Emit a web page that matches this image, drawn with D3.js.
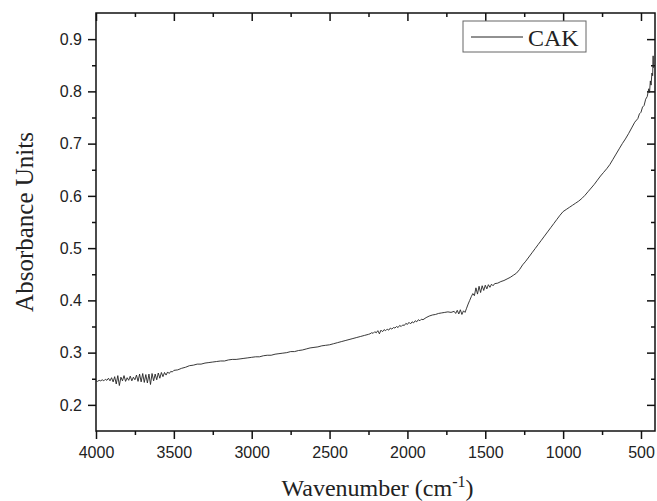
<!DOCTYPE html>
<html>
<head>
<meta charset="utf-8">
<title>CAK absorbance</title>
<script src="https://cdn.jsdelivr.net/npm/d3@7"></script>
<style>
  body { margin: 0; background: #fff; }
  .tick text { font-family: "Liberation Sans", Arial, sans-serif; font-size: 16px; fill: #222; }
  .axis-title { font-family: "Liberation Serif", "Times New Roman", serif; font-size: 24px; fill: #222; }
</style>
</head>
<body>
<svg id="chart" width="657" height="501"></svg>
<script>
// wavenumber (cm-1) and absorbance
const wavenumber = [
  4000,3990,3980,3970,3960,3950,3940,3930,3920,3910,3900,3890,3880,3870,3860,3850,3840,3830,3820,3810,
  3800,3790,3780,3770,3760,3750,3740,3730,3720,3710,3700,3690,3680,3670,3660,3650,3640,3630,3620,3610,
  3600,3590,3580,3570,3560,3550,3540,3530,3520,3510,3500,
  3475,3450,3425,3400,3375,3350,3325,3300,3275,3250,3225,3200,3175,3150,3125,3100,3075,3050,3025,3000,
  2975,2950,2925,2900,2875,2850,2825,2800,2775,2750,2725,2700,2675,2650,2625,2600,2575,2550,2525,2500,
  2475,2450,2425,2400,2375,2350,2325,2300,2275,2250,
  2240,2230,2220,2210,2200,2190,2180,2170,2160,2150,2140,2130,2120,2110,2100,2090,2080,2070,2060,2050,
  2040,2030,2020,2010,2000,1990,1980,1970,1960,1950,1940,1930,1920,1910,1900,
  1880,1860,1840,1820,1800,1780,1760,1740,1720,1700,
  1690,1680,1670,1660,1650,1640,1630,1620,1610,1600,1590,1580,1570,1560,1550,1540,1530,1520,1510,1500,
  1490,1480,1470,1460,1450,1440,1420,1400,1380,1360,1340,1320,1300,
  1280,1260,1240,1220,1200,1180,1160,1140,1120,1100,1080,1060,1040,1020,1000,
  980,960,940,920,900,880,860,840,820,800,780,760,740,720,700,680,660,640,620,600,
  580,560,540,520,510,500,490,480,470,460,450,445,440,435,430,425,422,420
];
const absorbance = [
  .246,.245,.247,.246,.248,.246,.249,.247,.251,.246,.252,.244,.254,.240,.256,.237,.253,.246,.256,.245,
  .252,.247,.255,.246,.253,.248,.257,.245,.259,.244,.260,.243,.258,.242,.259,.239,.260,.246,.259,.248,
  .261,.251,.262,.254,.262,.257,.263,.260,.264,.263,.266,
  .267,.270,.272,.275,.276,.278,.278,.280,.281,.282,.283,.284,.284,.286,.287,.287,.288,.289,.290,.291,
  .292,.292,.294,.295,.295,.297,.298,.299,.300,.302,.302,.304,.305,.307,.309,.310,.311,.313,.314,.315,
  .317,.319,.321,.323,.325,.327,.329,.331,.333,.335,
  .336,.338,.337,.340,.338,.342,.336,.343,.340,.344,.342,.345,.343,.347,.345,.348,.347,.350,.348,.352,
  .350,.353,.352,.356,.354,.358,.355,.359,.357,.361,.359,.363,.361,.364,.363,
  .367,.370,.372,.373,.375,.376,.377,.378,.377,.379,
  .375,.381,.374,.382,.373,.380,.377,.385,.393,.400,.407,.413,.409,.424,.412,.427,.415,.428,.419,.429,
  .422,.430,.425,.431,.428,.432,.433,.436,.438,.441,.444,.448,.452,
  .459,.468,.475,.483,.491,.499,.507,.515,.523,.531,.539,.547,.555,.563,.570,
  .574,.578,.582,.586,.590,.595,.601,.608,.615,.622,.630,.638,.645,.652,.660,.670,.680,.690,.700,.709,
  .719,.730,.741,.748,.757,.760,.770,.773,.785,.790,.805,.798,.820,.812,.835,.830,.868,.845
];
const seriesName = "CAK";
const xTicks = [4000, 3500, 3000, 2500, 2000, 1500, 1000, 500];
const yTicks = [0.2, 0.3, 0.4, 0.5, 0.6, 0.7, 0.8, 0.9];

const margin = {top: 13, right: 2, bottom: 70, left: 96};
const svg = d3.select("#chart");
const W = +svg.attr("width"), H = +svg.attr("height");
const w = W - margin.left - margin.right, h = H - margin.top - margin.bottom;
const g = svg.append("g").attr("transform", `translate(${margin.left},${margin.top})`);

const x = d3.scaleLinear().domain([4000, 410]).range([0, w]);
const y = d3.scaleLinear().domain([0.15, 0.95]).range([h, 0]);

const xMinor = d3.range(3750, 400, -500);
const yMinor = d3.range(0.25, 0.95, 0.1);
const major = 8, minor = 4;

function styleAxis(sel) {
  sel.select(".domain").remove();
  sel.selectAll(".tick line").attr("stroke", "#111").attr("stroke-width", 1.5);
}

// bottom / left: outward ticks with labels
g.append("g").attr("transform", `translate(0,${h})`)
  .call(d3.axisBottom(x).tickValues(xTicks).tickSize(major).tickPadding(8).tickFormat(d3.format("d")))
  .call(styleAxis);
g.append("g").attr("transform", `translate(0,${h})`)
  .call(d3.axisBottom(x).tickValues(xMinor).tickSize(minor).tickFormat(""))
  .call(styleAxis);
g.append("g")
  .call(d3.axisLeft(y).tickValues(yTicks).tickSize(major).tickPadding(6).tickFormat(d3.format(".1f")))
  .call(styleAxis);
g.append("g")
  .call(d3.axisLeft(y).tickValues(yMinor).tickSize(minor).tickFormat(""))
  .call(styleAxis);

// top / right: inward ticks, no labels
g.append("g").call(d3.axisBottom(x).tickValues(xTicks).tickSize(major).tickFormat("")).call(styleAxis);
g.append("g").call(d3.axisBottom(x).tickValues(xMinor).tickSize(minor).tickFormat("")).call(styleAxis);
g.append("g").attr("transform", `translate(${w},0)`)
  .call(d3.axisLeft(y).tickValues(yTicks).tickSize(major).tickFormat("")).call(styleAxis);
g.append("g").attr("transform", `translate(${w},0)`)
  .call(d3.axisLeft(y).tickValues(yMinor).tickSize(minor).tickFormat("")).call(styleAxis);

// frame
g.append("rect").attr("width", w).attr("height", h)
  .attr("fill", "none").attr("stroke", "#111").attr("stroke-width", 1.5);

// spectrum
const pts = wavenumber.map((d, i) => [d, absorbance[i]]);
g.append("path").datum(pts)
  .attr("fill", "none").attr("stroke", "#222").attr("stroke-width", 0.9)
  .attr("d", d3.line().x(d => x(d[0])).y(d => y(d[1])));

// legend
const lg = svg.append("g").attr("transform", "translate(463,21)");
lg.append("rect").attr("width", 123).attr("height", 31)
  .attr("fill", "#fff").attr("stroke", "#666").attr("stroke-width", 1);
lg.append("line").attr("x1", 8).attr("x2", 60).attr("y1", 16).attr("y2", 16)
  .attr("stroke", "#222").attr("stroke-width", 1);
lg.append("text").attr("x", 65).attr("y", 25).attr("class", "axis-title")
  .style("font-size", "24px").text(seriesName);

// axis titles
svg.append("text").attr("class", "axis-title")
  .attr("transform", `translate(33,${margin.top + h / 2}) rotate(-90)`)
  .attr("text-anchor", "middle").style("font-size", "25px").text("Absorbance Units");
const xt = svg.append("text").attr("class", "axis-title")
  .attr("x", margin.left + w / 2 + 2).attr("y", 496).attr("text-anchor", "middle");
xt.append("tspan").text("Wavenumber (cm");
xt.append("tspan").attr("dy", -9).style("font-size", "16px").text("-1");
xt.append("tspan").attr("dy", 9).text(")");
</script>
</body>
</html>
